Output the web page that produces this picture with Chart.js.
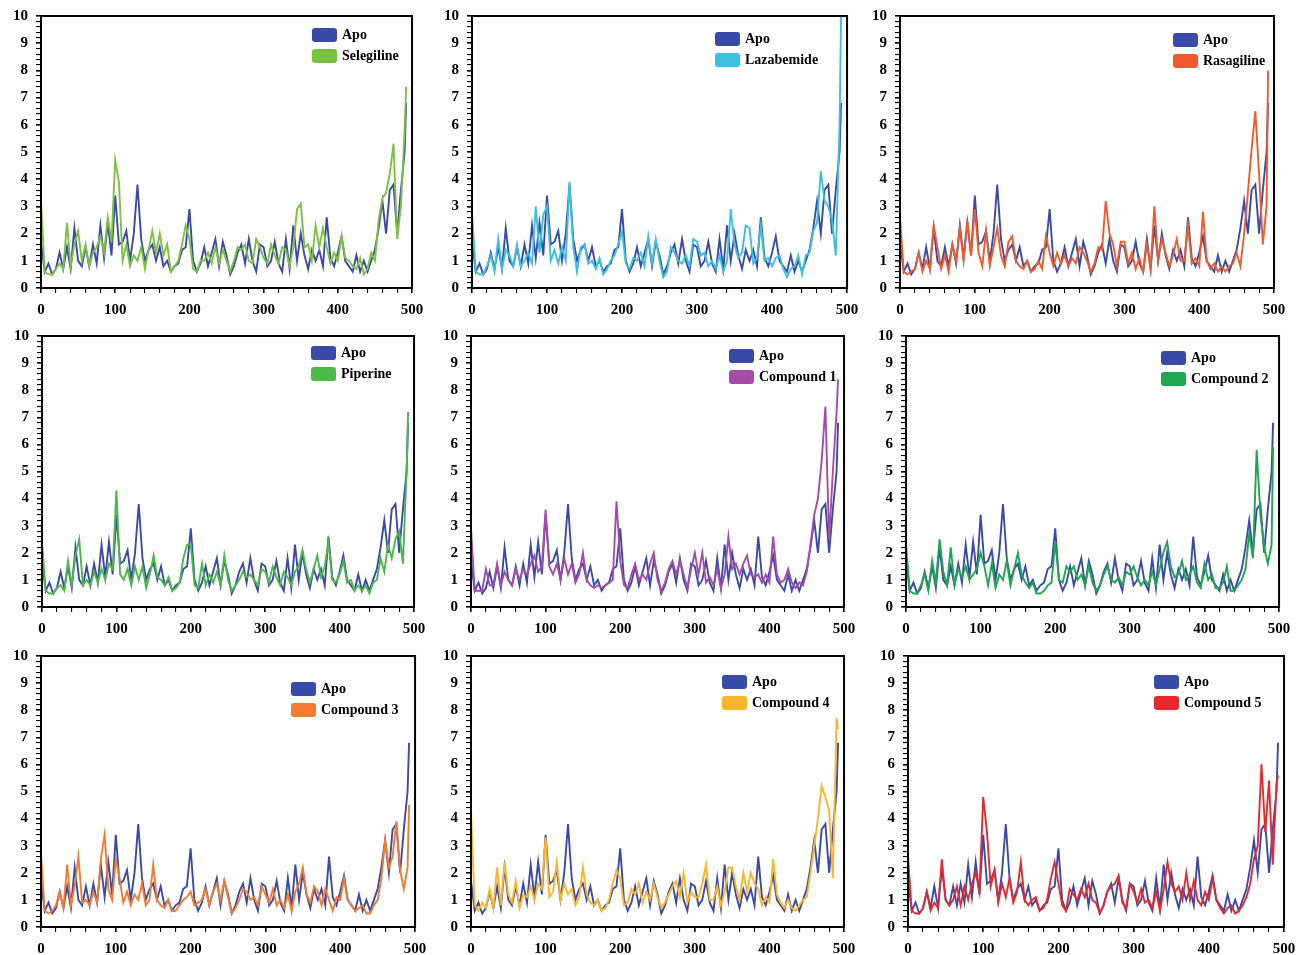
<!DOCTYPE html>
<html><head><meta charset="utf-8">
<script src="https://cdn.jsdelivr.net/npm/chart.js@4.4.0/dist/chart.umd.min.js"></script>
<style>
html,body{margin:0;padding:0;background:#fff;}
body{width:1297px;height:955px;position:relative;overflow:hidden;}
.panel{position:absolute;}
.sw{position:absolute;width:25px;height:14px;border-radius:3px;}
.lt{position:absolute;font:bold 14px "Liberation Serif","Times New Roman",serif;color:#000;line-height:14px;white-space:pre;}
</style></head>
<body>
<script>
// ---- data ----
const residues = [0,5,10,15,20,25,30,35,40,45,50,55,60,65,70,75,80,85,90,95,100,105,110,115,120,125,130,135,140,145,150,155,160,165,170,175,180,185,190,195,200,205,210,215,220,225,230,235,240,245,250,255,260,265,270,275,280,285,290,295,300,305,310,315,320,325,330,335,340,345,350,355,360,365,370,375,380,385,390,395,400,405,410,415,420,425,430,435,440,445,450,455,460,465,470,475,480,485,490,492];
const xTicks = [0,100,200,300,400,500];
const yTicks = [0,1,2,3,4,5,6,7,8,9,10];

const apo = [1.7,0.6,0.9,0.5,0.7,1.3,0.7,1.5,0.7,2.2,
1.0,0.8,1.5,0.8,1.6,0.9,2.3,1.1,2.4,1.2,
3.4,1.6,1.7,2.1,1.0,2.0,3.8,1.8,1.0,1.4,
1.6,1.0,1.5,0.8,1.0,0.6,0.8,0.9,1.4,1.5,
2.9,1.0,0.6,0.9,1.5,0.8,1.3,1.8,0.8,1.7,
1.2,0.5,0.8,1.3,1.6,0.9,1.8,1.0,0.6,1.6,
1.5,0.8,1.0,1.7,0.9,0.6,1.8,0.7,2.3,1.0,
2.0,1.2,0.7,1.4,1.0,1.4,0.8,2.6,1.1,0.8,
1.3,1.9,1.0,0.8,0.6,1.2,0.6,1.0,0.6,1.0,
1.4,2.2,3.2,2.0,3.6,3.8,2.0,3.6,5.0,6.8];

const selegiline = [3.2,0.6,0.5,0.5,0.7,0.9,0.7,2.4,0.8,1.6,
2.1,1.0,1.6,0.8,1.3,1.5,1.9,1.3,2.6,1.7,
4.7,3.9,1.0,1.6,0.8,1.2,1.0,1.5,0.7,1.4,
2.1,1.3,2.0,1.2,1.6,0.6,0.8,1.0,1.6,2.3,
1.8,0.7,0.6,1.0,1.0,1.3,0.9,1.5,0.9,1.4,
1.0,0.6,1.0,1.5,1.4,1.6,1.0,0.9,1.8,1.5,
1.1,0.9,1.6,1.2,0.9,1.5,1.4,0.8,1.5,2.9,
3.1,1.5,1.6,1.0,2.3,1.5,2.2,1.5,0.9,1.3,
1.0,1.9,1.1,1.0,0.8,0.7,1.1,0.5,0.7,1.3,
1.0,2.5,3.3,3.5,4.2,5.3,1.8,3.0,5.8,7.4];

const lazabemide = [2.8,0.6,0.5,0.5,0.8,1.2,0.6,1.8,0.7,1.4,
1.2,0.8,1.6,0.8,1.0,1.3,0.9,3.0,1.3,2.7,
3.0,1.0,1.4,0.9,1.5,1.0,3.9,1.5,0.6,1.5,
1.6,0.9,1.0,0.7,1.1,0.5,0.7,1.0,1.2,1.6,
2.1,0.9,0.7,1.1,1.0,1.3,0.8,1.9,0.9,1.8,
1.0,0.4,0.6,1.5,1.3,1.0,0.9,1.2,0.8,1.8,
1.7,1.2,1.3,0.8,1.0,0.7,1.2,0.6,1.0,2.9,
1.6,1.1,1.3,2.3,2.2,0.9,1.1,2.3,1.0,1.1,
0.8,1.1,1.2,0.7,0.4,0.7,0.8,1.2,0.5,1.2,
1.3,2.1,2.4,4.3,3.2,3.0,2.5,1.2,6.0,10.0];

const rasagiline = [2.6,0.6,0.5,0.6,0.7,1.3,0.6,1.0,0.7,2.3,
1.5,0.7,1.2,0.6,1.6,1.0,2.2,1.0,2.5,1.2,
2.9,1.3,0.8,2.1,0.8,1.5,2.2,1.2,0.8,1.7,
1.9,1.0,0.8,0.7,1.0,0.6,0.7,1.0,0.7,1.9,
1.3,0.8,1.3,0.9,1.2,0.8,1.1,0.9,1.5,1.3,
1.0,0.6,0.9,1.5,1.4,3.2,2.0,1.6,0.8,1.7,
1.7,0.9,1.3,0.7,1.1,0.6,1.6,0.7,3.0,1.0,
1.8,1.3,0.8,1.2,1.8,1.0,1.0,2.3,0.9,1.1,
0.8,2.8,1.0,0.7,0.9,0.6,0.8,0.6,0.8,0.9,
1.3,0.8,2.0,3.5,5.1,6.5,4.2,1.6,3.0,8.0];

const piperine = [2.4,0.6,0.5,0.5,0.7,0.8,0.6,1.7,0.8,1.9,
2.5,0.8,1.0,0.8,1.3,0.9,1.4,1.0,1.6,1.4,
4.3,1.2,1.0,1.4,0.8,1.5,1.0,1.5,0.7,1.2,
1.9,1.1,1.0,0.8,1.1,0.6,0.7,0.9,1.8,2.3,
2.3,0.8,0.7,1.6,0.8,1.2,0.9,1.3,0.8,1.9,
1.0,0.6,0.8,1.0,1.3,1.1,1.2,1.0,0.8,1.4,
1.3,0.9,1.5,1.1,0.8,1.3,1.1,0.8,1.3,1.5,
2.1,1.4,0.9,1.4,1.9,1.1,1.5,2.4,1.0,0.9,
1.2,1.7,0.9,1.0,0.6,0.8,0.6,0.8,0.5,0.9,
1.0,1.8,1.3,2.3,1.8,2.5,2.8,1.6,5.0,7.2];

const compound1 = [2.9,0.6,0.6,0.6,1.4,0.8,0.8,1.6,0.8,1.3,
1.0,0.8,1.4,1.0,1.4,1.2,1.6,1.9,1.3,1.5,
3.6,1.5,1.2,1.6,1.0,1.8,1.2,1.6,0.9,1.2,
2.0,1.0,0.8,0.7,0.8,0.7,0.8,0.9,1.0,3.9,
1.7,0.8,0.7,1.2,1.6,1.0,1.2,1.0,1.6,2.0,
1.0,0.6,0.9,1.4,1.7,1.2,1.7,1.2,0.7,1.4,
2.0,1.2,2.0,0.9,1.1,0.8,1.4,0.7,1.2,2.6,
1.4,1.6,1.2,1.6,1.9,1.2,1.1,1.2,0.9,1.2,
0.9,2.6,1.2,0.9,1.0,1.4,0.9,0.7,0.9,0.8,
1.3,2.3,3.4,4.0,5.4,7.4,2.5,5.0,7.2,8.4];

const compound2 = [2.3,0.6,0.5,0.5,0.8,1.2,0.6,1.7,0.9,2.5,
1.3,0.8,2.2,0.8,1.4,1.1,1.5,1.0,1.2,1.4,
2.0,1.5,0.8,1.6,0.7,1.2,1.0,1.7,0.8,1.4,
2.0,1.2,0.9,0.7,0.9,0.5,0.5,0.6,0.8,0.9,
2.4,1.0,0.9,1.5,1.3,1.5,1.0,1.2,0.8,1.5,
0.9,0.6,0.8,1.2,1.5,1.0,0.9,1.1,0.8,1.3,
1.2,1.5,1.1,0.8,1.0,0.8,1.3,0.8,1.4,2.0,
2.4,1.5,1.1,1.2,1.7,1.0,1.2,1.5,0.9,0.7,
1.6,1.0,1.2,0.7,0.7,0.9,1.5,0.6,0.6,0.8,
1.0,1.4,2.7,1.8,5.8,3.4,2.2,1.6,2.3,5.9];

const compound3 = [2.7,0.6,0.5,0.6,0.8,1.3,0.7,2.3,0.8,1.5,
2.6,0.9,1.0,0.8,1.3,0.9,2.5,3.4,1.4,1.0,
2.5,1.8,0.9,1.3,0.8,1.2,1.0,1.6,0.8,1.0,
2.3,1.0,0.8,0.7,1.0,0.6,0.6,0.8,1.0,1.1,
1.3,0.8,0.9,1.0,1.4,0.8,1.3,1.6,1.0,1.7,
1.1,0.5,0.7,1.0,1.4,1.3,1.0,1.1,0.8,1.5,
1.2,0.9,1.4,0.8,1.0,0.7,1.2,0.6,1.3,1.6,
2.2,1.2,0.9,1.5,1.3,0.8,1.4,1.0,0.6,1.1,
1.0,1.8,1.0,0.8,0.6,0.7,0.8,0.5,0.5,0.8,
1.0,1.8,3.2,2.2,2.6,3.9,2.1,1.4,2.2,4.5];

const compound4 = [4.3,0.8,0.6,0.9,0.7,1.4,0.7,2.2,0.8,2.4,
1.2,0.9,1.7,0.7,1.2,1.1,1.5,1.0,1.6,1.4,
3.3,1.1,1.3,2.4,1.0,1.6,1.2,1.4,0.8,1.1,
2.2,1.2,0.9,0.8,1.0,0.6,0.7,1.0,1.6,2.1,
1.8,0.8,0.9,1.4,1.2,1.6,0.9,1.3,1.0,1.6,
1.1,0.7,0.9,1.2,1.5,1.7,1.1,2.0,0.9,1.3,
1.1,1.1,1.6,2.3,1.0,1.0,1.5,0.8,1.3,2.2,
2.2,1.5,1.0,2.0,1.3,2.0,1.6,1.4,0.8,1.1,
0.9,2.5,1.2,0.9,0.7,1.0,0.7,0.6,0.8,1.0,
1.1,2.0,3.0,4.0,5.2,4.8,4.3,1.8,7.7,7.3];

const compound5 = [2.6,0.6,0.5,0.5,0.7,1.3,0.6,0.9,0.7,2.5,
1.0,0.8,1.0,1.5,0.8,1.5,1.0,1.6,2.0,1.3,
4.8,3.5,1.5,2.1,0.9,1.6,1.1,1.8,0.9,1.3,
2.4,1.0,0.8,1.0,1.1,0.6,0.7,1.0,1.8,2.4,
1.6,0.8,0.6,1.4,1.2,1.0,1.4,1.1,1.6,1.0,
0.9,0.5,0.8,1.3,1.5,1.6,1.9,0.9,0.7,1.6,
1.3,0.9,1.4,0.9,1.0,0.7,1.3,0.6,1.4,2.4,
1.6,1.3,1.5,1.0,2.0,1.0,1.7,1.0,0.8,1.3,
1.0,1.8,1.0,0.7,0.5,0.7,0.8,0.5,0.6,0.8,
1.1,1.6,2.5,3.0,6.0,3.5,5.4,2.3,5.3,5.6];

const ligandNames = ['Selegiline','Lazabemide','Rasagiline','Piperine','Compound 1','Compound 2','Compound 3','Compound 4','Compound 5'];
const ligandSeries = [selegiline,lazabemide,rasagiline,piperine,compound1,compound2,compound3,compound4,compound5];

// ---- styles / layout ----
const apoColor = '#3a4aa8';
const ligandColors = ['#7cc242','#3cc0e0','#f15a2b','#4cb848','#a64ca8','#1ea650','#f47a30','#fbb52b','#e8282b'];
// plot area: left, right, top, bottom (px)
const plotBoxes = [
  [41,412,16,288],[472,847,16,288],[900,1274,16,288],
  [42,414,336,607],[471,844,336,607],[906,1279,336,607],
  [41,415,656,927],[471,844,656,927],[908,1284,656,927]
];
// legend: swatch left, first swatch top
const legendPos = [
  [312,28],[715,32],[1173,33],
  [311,346],[729,349],[1161,351],
  [291,682],[722,675],[1154,675]
];

const FONT = {family:'"Liberation Serif","Times New Roman",serif', weight:'bold', size:15};

const framePlugin = {
  id:'frame',
  afterDraw(ch){
    const {ctx, chartArea:a} = ch;
    ctx.save();
    ctx.strokeStyle = '#000';
    ctx.lineWidth = 2;
    ctx.strokeRect(a.left, a.top, a.right - a.left, a.bottom - a.top);
    ctx.restore();
  }
};

function isInt(v){ return Math.abs(v - Math.round(v)) < 1e-6; }

function makePanel(i){
  const [L,R,T,B] = plotBoxes[i];
  const YW = 40, XH = 34, PT = 10, PR = 18;
  let W = R - L + YW + PR, H = B - T + PT + XH;
  const div = document.createElement('div');
  div.className = 'panel';
  const c = document.createElement('canvas');
  c.width = W; c.height = H;
  c.style.width = W + 'px'; c.style.height = H + 'px';
  div.appendChild(c);
  document.body.appendChild(div);

  const lig = ligandSeries[i];
  const ch = new Chart(c, {
    type:'line',
    data:{datasets:[
      {label:ligandNames[i], data:residues.map((x,k)=>({x:x, y:lig[k]})), borderColor:ligandColors[i], order:0},
      {label:'Apo', data:residues.map((x,k)=>({x:x, y:apo[k]})), borderColor:apoColor, order:1}
    ]},
    options:{
      responsive:false, maintainAspectRatio:false, animation:false, devicePixelRatio:1,
      layout:{padding:{top:PT, right:PR, left:0, bottom:0}},
      elements:{point:{radius:0}, line:{borderWidth:1.9, tension:0}},
      plugins:{legend:{display:false}, tooltip:{enabled:false}},
      scales:{
        x:{
          type:'linear', min:0, max:500,
          afterFit:s=>{ s.height = XH; },
          border:{display:false},
          grid:{drawOnChartArea:false, drawTicks:true, tickLength:5, color:'#000',
                lineWidth:ctx=> (ctx.tick && xTicks.includes(ctx.tick.value)) ? 1.6 : 1.1},
          ticks:{stepSize:20, autoSkip:false, maxRotation:0, maxTicksLimit:100, color:'#000', font:FONT, padding:8,
                 callback:v=> xTicks.includes(v) ? String(v) : ''}
        },
        y:{
          min:0, max:10,
          afterFit:s=>{ s.width = YW; },
          border:{display:false},
          grid:{drawOnChartArea:false, drawTicks:true, tickLength:5, color:'#000',
                lineWidth:ctx=> (ctx.tick && isInt(ctx.tick.value)) ? 1.6 : 1.1},
          ticks:{stepSize:0.2, autoSkip:false, maxTicksLimit:100, color:'#000', font:FONT, padding:8,
                 callback:v=> (isInt(v) && yTicks.includes(Math.round(v))) ? String(Math.round(v)) : ''}
        }
      }
    },
    plugins:[framePlugin]
  });

  // make the plot area land exactly on the target box
  for (let it = 0; it < 4; it++){
    const a = ch.chartArea;
    const dw = (R - L) - (a.right - a.left);
    const dh = (B - T) - (a.bottom - a.top);
    if (Math.abs(dw) < 0.5 && Math.abs(dh) < 0.5) break;
    W += dw; H += dh;
    ch.resize(W, H);
  }
  const a = ch.chartArea;
  div.style.left = (L - a.left) + 'px';
  div.style.top = (T - a.top) + 'px';

  // legend
  const [lx, ly] = legendPos[i];
  const rows = [['Apo', apoColor], [ligandNames[i], ligandColors[i]]];
  rows.forEach((r, j)=>{
    const sw = document.createElement('div');
    sw.className = 'sw';
    sw.style.left = lx + 'px';
    sw.style.top = (ly + j*21) + 'px';
    sw.style.background = r[1];
    document.body.appendChild(sw);
    const t = document.createElement('div');
    t.className = 'lt';
    t.textContent = r[0];
    t.style.left = (lx + 30) + 'px';
    t.style.top = (ly + j*21) + 'px';
    document.body.appendChild(t);
  });
}

for (let i = 0; i < 9; i++) makePanel(i);
</script>
</body></html>
